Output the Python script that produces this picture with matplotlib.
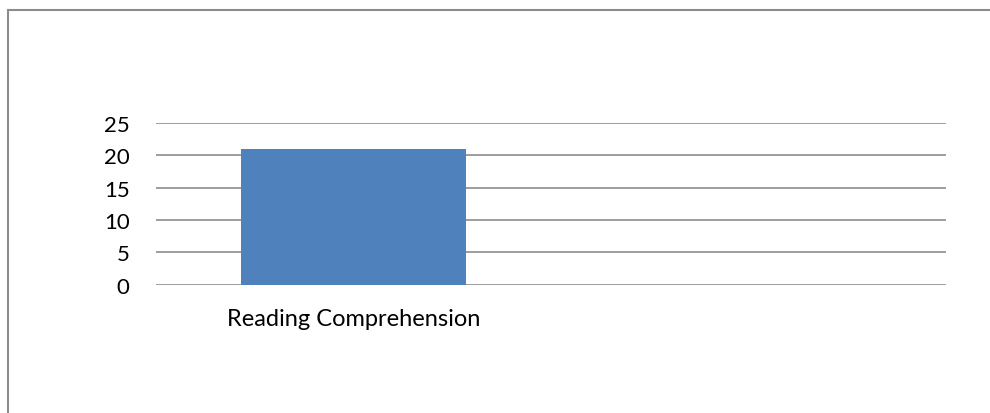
import matplotlib
matplotlib.use("Agg")
import matplotlib.pyplot as plt
from matplotlib.patches import Rectangle

categories = ["Reading Comprehension"]
values = [21]
yticks = [0, 5, 10, 15, 20, 25]

plt.rcParams['font.family'] = ['Lato', 'DejaVu Sans']

W, H = 990, 414
fig = plt.figure(figsize=(W / 100, H / 100), dpi=100)

# outer chart border (only top and left visible in the reference crop)
fig.patches.append(Rectangle((8 / W, -0.1), 1.2, (H - 11) / H + 0.1, transform=fig.transFigure,
                             fill=False, edgecolor='#8c8c8c', linewidth=1.5, clip_on=False))

ax = fig.add_axes([156 / W, (H - 285.7) / H, (946 - 156) / W, (285.7 - 124) / H])
ax.bar(range(len(categories)), values, width=0.572, color='#4F81BD', zorder=3)
ax.set_xlim(-0.5, 1.5)
ax.set_ylim(0, 25)
ax.set_yticks(yticks)
ax.set_xticks(range(len(categories)))
ax.set_xticklabels(categories)
ax.yaxis.grid(True, color='#8c8c8c', linewidth=1.2)
ax.set_axisbelow(True)
for s in ax.spines.values():
    s.set_visible(False)
ax.tick_params(axis='both', length=0, colors='black')
ax.tick_params(axis='y', pad=19, labelsize=16)
ax.tick_params(axis='x', pad=17, labelsize=17)

fig.savefig("out.png", dpi=100)
